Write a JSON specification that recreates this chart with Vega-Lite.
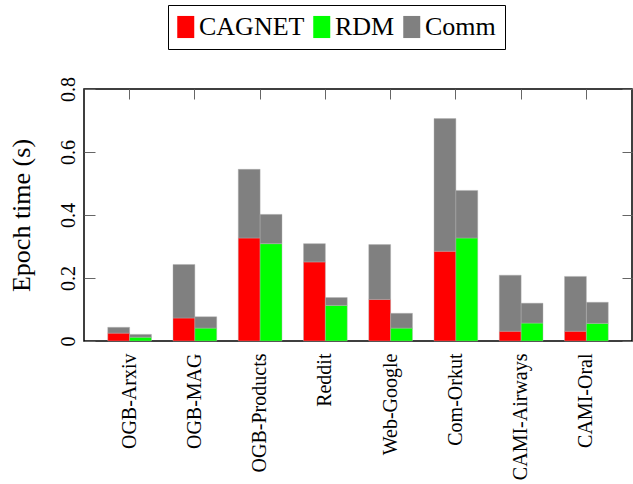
{
  "$schema": "https://vega.github.io/schema/vega-lite/v6.json",
  "width": 548,
  "height": 252,
  "autosize": "none",
  "padding": {"left": 84, "top": 89, "right": 1, "bottom": 143},
  "config": {
    "font": "Liberation Serif",
    "view": {"stroke": "#000000", "strokeWidth": 1.5},
    "axis": {"domain": false, "grid": false, "labelFont": "Liberation Serif", "titleFont": "Liberation Serif", "labelColor": "#000000", "titleColor": "#000000", "tickColor": "#666666", "tickWidth": 1}
  },
  "data": {
    "values": [
      {"dataset": "OGB-Arxiv", "system": "CAGNET", "part": "CAGNET", "ord": 0, "value": 0.025},
      {"dataset": "OGB-Arxiv", "system": "CAGNET", "part": "Comm", "ord": 1, "value": 0.0185},
      {"dataset": "OGB-Arxiv", "system": "RDM", "part": "RDM", "ord": 0, "value": 0.012},
      {"dataset": "OGB-Arxiv", "system": "RDM", "part": "Comm", "ord": 1, "value": 0.009},
      {"dataset": "OGB-MAG", "system": "CAGNET", "part": "CAGNET", "ord": 0, "value": 0.073},
      {"dataset": "OGB-MAG", "system": "CAGNET", "part": "Comm", "ord": 1, "value": 0.170},
      {"dataset": "OGB-MAG", "system": "RDM", "part": "RDM", "ord": 0, "value": 0.041},
      {"dataset": "OGB-MAG", "system": "RDM", "part": "Comm", "ord": 1, "value": 0.036},
      {"dataset": "OGB-Products", "system": "CAGNET", "part": "CAGNET", "ord": 0, "value": 0.327},
      {"dataset": "OGB-Products", "system": "CAGNET", "part": "Comm", "ord": 1, "value": 0.218},
      {"dataset": "OGB-Products", "system": "RDM", "part": "RDM", "ord": 0, "value": 0.309},
      {"dataset": "OGB-Products", "system": "RDM", "part": "Comm", "ord": 1, "value": 0.093},
      {"dataset": "Reddit", "system": "CAGNET", "part": "CAGNET", "ord": 0, "value": 0.251},
      {"dataset": "Reddit", "system": "CAGNET", "part": "Comm", "ord": 1, "value": 0.058},
      {"dataset": "Reddit", "system": "RDM", "part": "RDM", "ord": 0, "value": 0.113},
      {"dataset": "Reddit", "system": "RDM", "part": "Comm", "ord": 1, "value": 0.025},
      {"dataset": "Web-Google", "system": "CAGNET", "part": "CAGNET", "ord": 0, "value": 0.132},
      {"dataset": "Web-Google", "system": "CAGNET", "part": "Comm", "ord": 1, "value": 0.174},
      {"dataset": "Web-Google", "system": "RDM", "part": "RDM", "ord": 0, "value": 0.041},
      {"dataset": "Web-Google", "system": "RDM", "part": "Comm", "ord": 1, "value": 0.047},
      {"dataset": "Com-Orkut", "system": "CAGNET", "part": "CAGNET", "ord": 0, "value": 0.285},
      {"dataset": "Com-Orkut", "system": "CAGNET", "part": "Comm", "ord": 1, "value": 0.421},
      {"dataset": "Com-Orkut", "system": "RDM", "part": "RDM", "ord": 0, "value": 0.327},
      {"dataset": "Com-Orkut", "system": "RDM", "part": "Comm", "ord": 1, "value": 0.151},
      {"dataset": "CAMI-Airways", "system": "CAGNET", "part": "CAGNET", "ord": 0, "value": 0.031},
      {"dataset": "CAMI-Airways", "system": "CAGNET", "part": "Comm", "ord": 1, "value": 0.178},
      {"dataset": "CAMI-Airways", "system": "RDM", "part": "RDM", "ord": 0, "value": 0.057},
      {"dataset": "CAMI-Airways", "system": "RDM", "part": "Comm", "ord": 1, "value": 0.063},
      {"dataset": "CAMI-Oral", "system": "CAGNET", "part": "CAGNET", "ord": 0, "value": 0.031},
      {"dataset": "CAMI-Oral", "system": "CAGNET", "part": "Comm", "ord": 1, "value": 0.174},
      {"dataset": "CAMI-Oral", "system": "RDM", "part": "RDM", "ord": 0, "value": 0.056},
      {"dataset": "CAMI-Oral", "system": "RDM", "part": "Comm", "ord": 1, "value": 0.067}
    ]
  },
  "layer": [
    {
      "mark": {"type": "bar", "stroke": "#b0b0b0", "strokeWidth": 0.7, "strokeOpacity": 0.6},
      "encoding": {
        "x": {
          "field": "dataset", "type": "nominal", "sort": null,
          "scale": {"paddingInner": 0.33, "paddingOuter": 0.364},
          "axis": {"orient": "bottom", "title": null, "labelAngle": -90, "labelFontSize": 20, "ticks": false, "labelPadding": 12}
        },
        "xOffset": {"field": "system", "type": "nominal", "sort": ["CAGNET", "RDM"], "scale": {"paddingInner": 0, "paddingOuter": 0}},
        "y": {
          "field": "value", "type": "quantitative", "stack": "zero",
          "scale": {"domain": [0, 0.8], "nice": false},
          "axis": {"orient": "left", "title": "Epoch time (s)", "titleFontSize": 26, "titleFontWeight": "normal", "values": [0, 0.2, 0.4, 0.6, 0.8], "format": "~g", "labelAngle": -90, "labelFontSize": 20, "tickSize": -11, "labelPadding": 17, "titlePadding": 24}
        },
        "order": {"field": "ord", "type": "quantitative", "sort": "ascending"},
        "color": {
          "field": "part", "type": "nominal",
          "scale": {"domain": ["CAGNET", "RDM", "Comm"], "range": ["#ff0000", "#00ff00", "#808080"]},
          "legend": {
            "title": null, "orient": "none", "legendX": 84, "legendY": -84, "direction": "horizontal",
            "symbolType": "M-1.5,-1.3L0.5,-1.3L0.5,1.3L-1.5,1.3Z", "symbolSize": 289, "symbolStrokeWidth": 0, "symbolOpacity": 1,
            "labelFont": "Liberation Serif", "labelFontSize": 26, "labelColor": "#000000", "labelOffset": -4,
            "columnPadding": 8, "padding": 9, "strokeColor": "#000000", "fillColor": "#ffffff"
          }
        }
      }
    },
    {
      "mark": {"type": "bar", "opacity": 0},
      "encoding": {
        "x": {
          "field": "dataset", "type": "nominal", "sort": null,
          "axis": {"orient": "top", "title": null, "labels": false, "tickSize": -10}
        },
        "y": {
          "field": "value", "type": "quantitative", "stack": null,
          "axis": {"orient": "right", "title": null, "labels": false, "values": [0, 0.2, 0.4, 0.6, 0.8], "tickSize": -10}
        }
      }
    }
  ],
  "resolve": {"axis": {"x": "independent", "y": "independent"}}
}
